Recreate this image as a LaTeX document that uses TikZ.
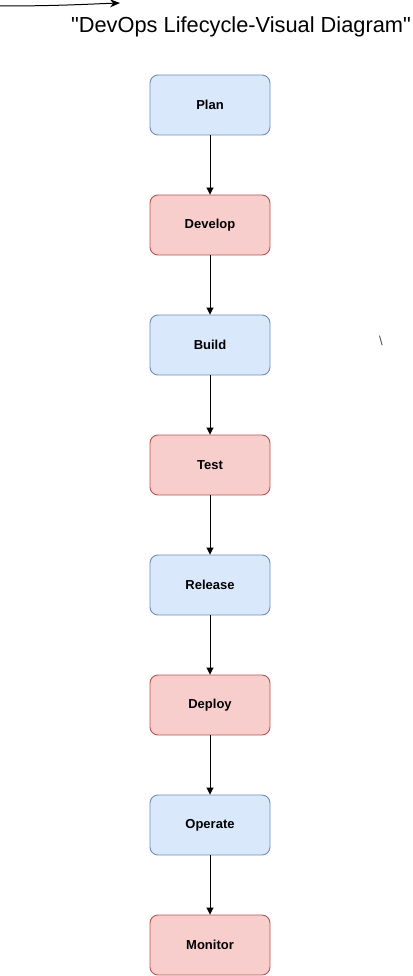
\documentclass[tikz,border=0pt]{standalone}
\usepackage{fontspec}
\setmainfont{Liberation Sans}
\usepackage{xcolor}
\usetikzlibrary{arrows.meta}
\definecolor{bluefill}{HTML}{DAE8FC}
\definecolor{bluedraw}{HTML}{6C8EBF}
\definecolor{redfill}{HTML}{F8CECC}
\definecolor{reddraw}{HTML}{B85450}
\begin{document}
\begin{tikzpicture}[x=1pt, y=-1pt,
    bluebox/.style={draw=bluedraw, fill=bluefill, line width=0.9pt, rounded corners=8pt, minimum width=120pt, minimum height=60pt, font=\fontsize{13}{15}\selectfont\bfseries},
    redbox/.style={draw=reddraw, fill=redfill, line width=0.9pt, rounded corners=8pt, minimum width=120pt, minimum height=60pt, font=\fontsize{13}{15}\selectfont\bfseries},
    flow/.style={-{Triangle[length=7pt,width=7pt]}, line width=0.9pt}]
        \useasboundingbox (0,0) rectangle (412,976);
        % Title
        \coordinate (t1) at (0,6);
        \coordinate (t2) at (120,3);
        \draw[-{Stealth[length=10pt,width=8pt]}, line width=1pt] (t1) .. controls (60,6) and (90,4) .. (t2);
        \node (title) at (241,27) {\fontsize{21.8}{26}\selectfont \textquotedbl DevOps Lifecycle-Visual Diagram\textquotedbl};
        \node[text=black!70] (mark) at (381,341) {\fontsize{13}{15}\selectfont\textbackslash};
        
        % Stages
        \node[bluebox] (plan) at (210,105) {Plan};
        \node[redbox] (develop) at (210,225) {Develop};
        \node[bluebox] (build) at (210,345) {Build};
        \node[redbox] (test) at (210,465) {Test};
        \node[bluebox] (release) at (210,585) {Release};
        \node[redbox] (deploy) at (210,705) {Deploy};
        \node[bluebox] (operate) at (210,825) {Operate};
        \node[redbox] (monitor) at (210,945) {Monitor};
        
        % Arrows
        \draw[flow] (plan) -- (develop);
        \draw[flow] (develop) -- (build);
        \draw[flow] (build) -- (test);
        \draw[flow] (test) -- (release);
        \draw[flow] (release) -- (deploy);
        \draw[flow] (deploy) -- (operate);
        \draw[flow] (operate) -- (monitor);
    \end{tikzpicture}
\end{document}
